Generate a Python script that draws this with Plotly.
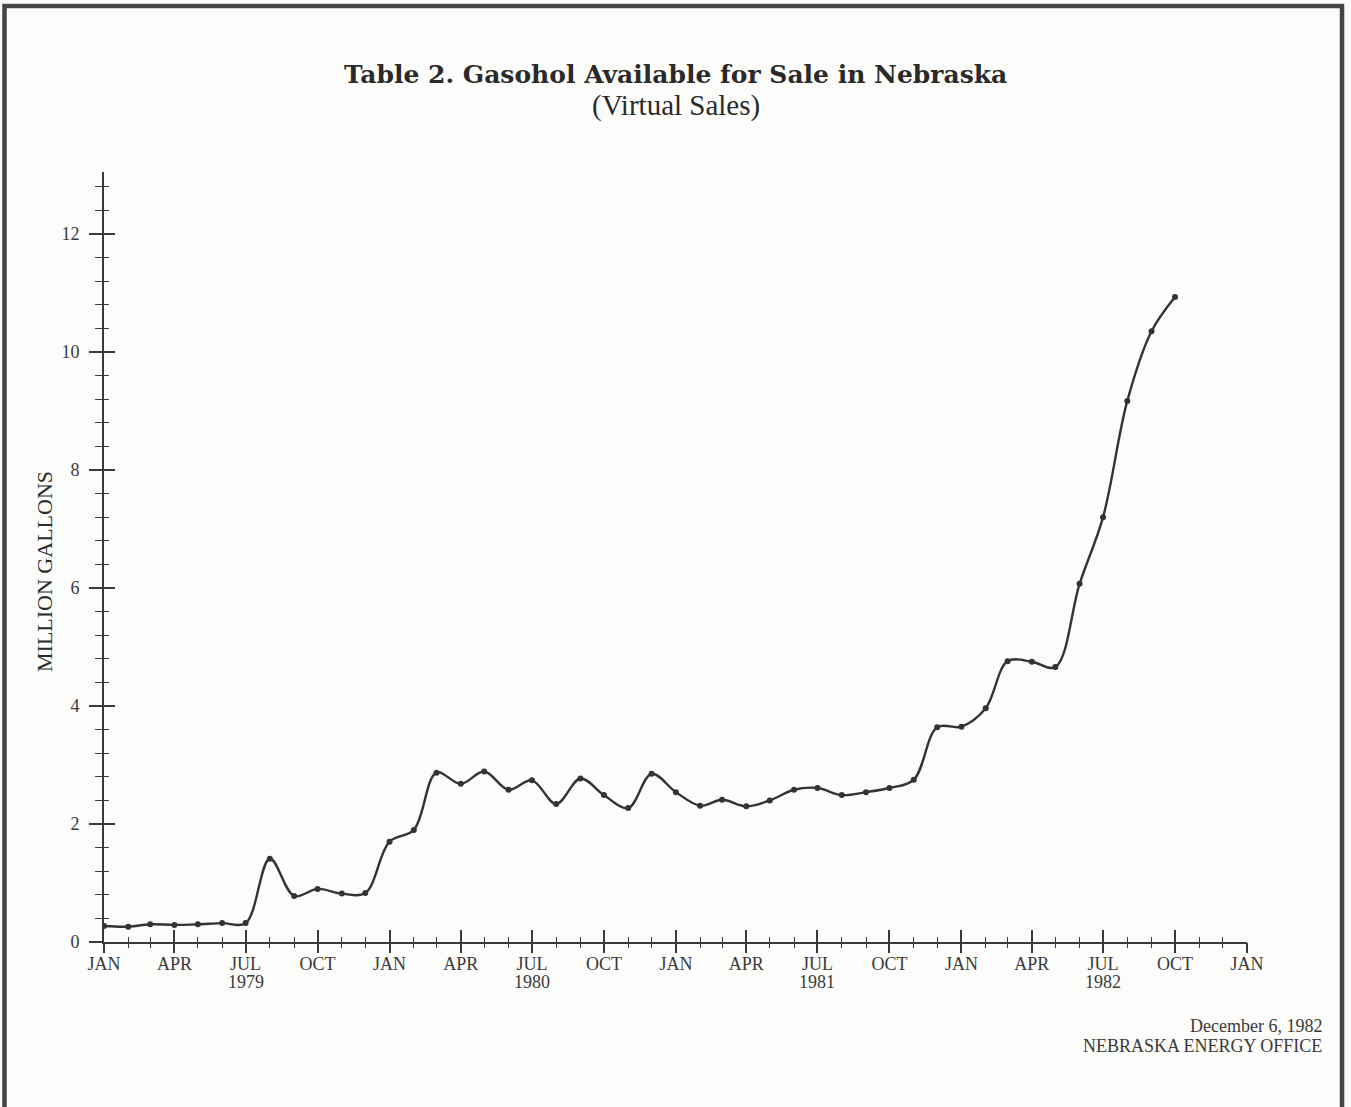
import pandas as pd
import plotly.graph_objects as go

# ---- data ----
months = pd.date_range("1979-01-01", periods=46, freq="MS")
gallons_millions = [
    0.27, 0.26, 0.30, 0.29, 0.30, 0.32, 0.32, 1.41, 0.78, 0.90, 0.82, 0.83,   # 1979
    1.70, 1.90, 2.87, 2.68, 2.89, 2.58, 2.74, 2.34, 2.77, 2.49, 2.27, 2.85,   # 1980
    2.54, 2.31, 2.41, 2.30, 2.40, 2.58, 2.61, 2.49, 2.54, 2.61, 2.75, 3.64,   # 1981
    3.65, 3.96, 4.76, 4.75, 4.66, 6.07, 7.20, 9.17, 10.35, 10.93,             # 1982
]
tick_dates = pd.date_range("1979-01-01", "1983-01-01", freq="3MS")
tick_labels = ["JAN", "APR", "JUL", "OCT"] * 4 + ["JAN"]
year_dates = ["1979-07-01", "1980-07-01", "1981-07-01", "1982-07-01"]
year_labels = ["1979", "1980", "1981", "1982"]
y_ticks = [0, 2, 4, 6, 8, 10, 12]

INK = "#3a3a3a"
PAPER = "#fcfcfa"
SERIF = "Liberation Serif, Times New Roman, serif"

fig = go.Figure()
fig.add_trace(go.Scatter(
    x=months, y=gallons_millions, mode="lines+markers",
    line=dict(color="#333333", width=2.4, shape="spline", smoothing=1.0),
    marker=dict(color="#333333", size=6),
    showlegend=False, hoverinfo="x+y",
))
# empty trace to anchor the overlay axes (used for ticks crossing the axis lines)
fig.add_trace(go.Scatter(x=[], y=[], xaxis="x2", yaxis="y2", showlegend=False))

x_range = ["1979-01-01", "1983-01-01"]
y_range = [0, 13.05]

fig.update_layout(
    width=1351, height=1107,
    paper_bgcolor=PAPER, plot_bgcolor=PAPER,
    margin=dict(l=104, r=104, t=172, b=165),
    font=dict(family=SERIF, color=INK),
    xaxis=dict(
        type="date", range=x_range, tickvals=list(tick_dates), ticktext=tick_labels,
        showgrid=False, zeroline=False, showline=True, linecolor=INK, linewidth=2,
        ticks="inside", ticklen=12, tickwidth=2, tickcolor=INK,
        minor=dict(dtick="M1", ticks="inside", ticklen=5, tickwidth=1.3, tickcolor=INK, showgrid=False),
        tickfont=dict(family=SERIF, size=18, color=INK), ticklabelstandoff=4,
    ),
    xaxis2=dict(
        type="date", range=x_range, tickvals=list(tick_dates), overlaying="x", anchor="y",
        showgrid=False, zeroline=False, showline=False, showticklabels=False,
        ticks="outside", ticklen=10, tickwidth=2, tickcolor=INK,
        minor=dict(dtick="M1", ticks="outside", ticklen=5, tickwidth=1.3, tickcolor=INK, showgrid=False),
    ),
    yaxis=dict(
        range=y_range, tickvals=y_ticks, showgrid=False, zeroline=False,
        showline=True, linecolor=INK, linewidth=2,
        ticks="outside", ticklen=13, tickwidth=2, tickcolor=INK,
        minor=dict(dtick=0.4, tick0=0, ticks="outside", ticklen=7, tickwidth=1.3, tickcolor=INK, showgrid=False),
        tickfont=dict(family=SERIF, size=18, color=INK), ticklabelstandoff=6,
    ),
    yaxis2=dict(
        range=y_range, tickvals=y_ticks, overlaying="y", anchor="x", side="left",
        showgrid=False, zeroline=False, showline=False, showticklabels=False,
        ticks="inside", ticklen=11, tickwidth=2, tickcolor=INK,
        minor=dict(dtick=0.4, tick0=0, ticks="inside", ticklen=5, tickwidth=1.3, tickcolor=INK, showgrid=False),
    ),
)

def px_x(p):
    return (p - 104) / 1143

def px_y(p):
    return (942 - p) / 770

annotations = [
    dict(text="<b>Table 2. Gasohol Available for Sale in Nebraska</b>",
         x=0.5, y=px_y(74), xref="paper", yref="paper", showarrow=False,
         xanchor="center", yanchor="middle",
         font=dict(family="DejaVu Serif, serif", size=25, color="#2a2a2a")),
    dict(text="(Virtual Sales)",
         x=0.5, y=px_y(105), xref="paper", yref="paper", showarrow=False,
         xanchor="center", yanchor="middle",
         font=dict(family=SERIF, size=29, color="#2a2a2a")),
    dict(text="MILLION GALLONS", textangle=-90,
         x=px_x(44), y=px_y(572), xref="paper", yref="paper", showarrow=False,
         xanchor="center", yanchor="middle",
         font=dict(family=SERIF, size=22, color="#2a2a2a")),
    dict(text="December 6, 1982",
         x=px_x(1324), y=px_y(1026), xref="paper", yref="paper", showarrow=False,
         xanchor="right", yanchor="middle",
         font=dict(family=SERIF, size=18, color=INK)),
    dict(text="NEBRASKA ENERGY OFFICE",
         x=px_x(1324), y=px_y(1046), xref="paper", yref="paper", showarrow=False,
         xanchor="right", yanchor="middle",
         font=dict(family=SERIF, size=18, color=INK)),
]
for d, t in zip(year_dates, year_labels):
    annotations.append(dict(text=t, x=d, xref="x", y=px_y(982), yref="paper",
                            showarrow=False, xanchor="center", yanchor="middle",
                            font=dict(family=SERIF, size=18, color=INK)))
fig.update_layout(annotations=annotations)

# scanned page frame (top, left, right edges)
fig.update_layout(shapes=[
    dict(type="path", xref="paper", yref="paper",
         path=f"M {px_x(4.5)},{px_y(1120)} L {px_x(4.5)},{px_y(6)} L {px_x(1342)},{px_y(6)} L {px_x(1342)},{px_y(1120)}",
         line=dict(color="#444444", width=4.5), layer="above"),
])

fig.write_html("out.html", config={"displayModeBar": False},
               post_script="document.body.style.margin='0';")
